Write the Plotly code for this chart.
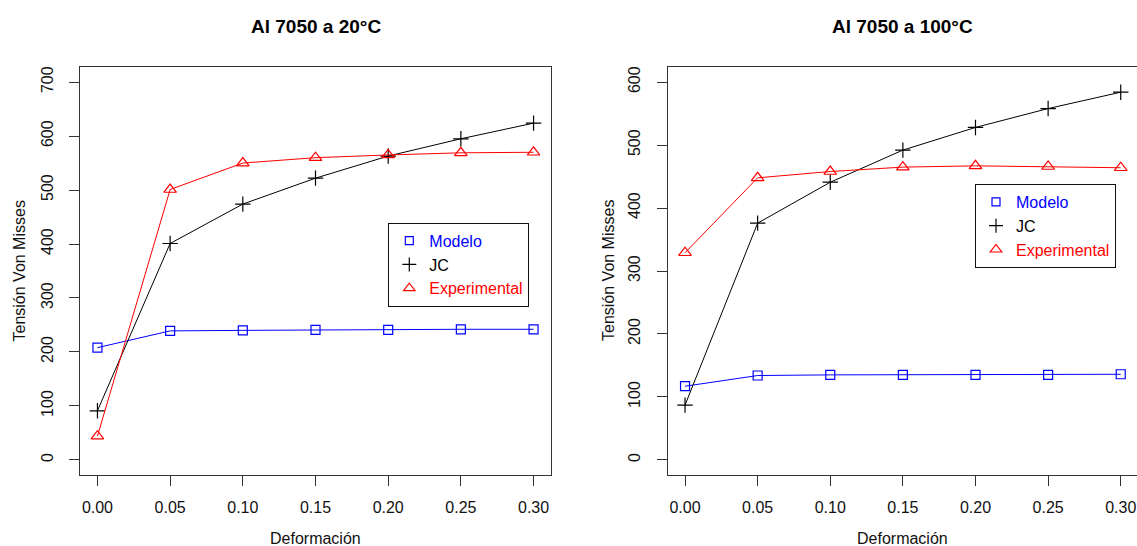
import plotly.graph_objects as go

deformacion = [0.00, 0.05, 0.10, 0.15, 0.20, 0.25, 0.30]

# Al 7050 a 20°C
modelo_20 = [208, 239, 240, 241, 241, 242, 242]
jc_20 = [91, 401, 474, 522, 563, 595, 624]
exp_20 = [44, 501, 550, 560, 565, 569, 570]

# Al 7050 a 100°C
modelo_100 = [117, 134, 135, 135, 135, 135, 136]
jc_100 = [87, 376, 441, 492, 528, 558, 584]
exp_100 = [329, 448, 458, 465, 467, 466, 464]

series_names = ["Modelo", "JC", "Experimental"]
colors = ["#0000FF", "#000000", "#FF0000"]
symbols = ["square-open", "cross-thin-open", "triangle-up-open"]
sizes = [9, 11, 11]

titles = ["Al 7050 a 20°C", "Al 7050 a 100°C"]
xlabel = "Deformación"
ylabel = "Tensión Von Misses"
xticks = [0.00, 0.05, 0.10, 0.15, 0.20, 0.25, 0.30]

W, H = 1137, 546
FONT = "Liberation Sans, Arial, sans-serif"

fig = go.Figure()

panels = [
    dict(data=[modelo_20, jc_20, exp_20], xa="x", ya="y", legend="legend"),
    dict(data=[modelo_100, jc_100, exp_100], xa="x2", ya="y2", legend="legend2"),
]

for p in panels:
    for vals, name, col, sym, sz in zip(p["data"], series_names, colors, symbols, sizes):
        fig.add_trace(go.Scatter(
            x=deformacion, y=vals, mode="lines+markers",
            line=dict(color=col, width=1),
            marker=dict(symbol=sym, size=sz, color=col, line=dict(color=col, width=1.2)),
            xaxis=p["xa"], yaxis=p["ya"], showlegend=False, hoverinfo="x+y",
        ))
    for name, col, sym, sz in zip(series_names, colors, symbols, sizes):
        fig.add_trace(go.Scatter(
            x=[None], y=[None], mode="markers",
            name=f"<span style='color:{col}'>{name}</span>",
            marker=dict(symbol=sym, size=sz - 1, color=col, line=dict(color=col, width=1.2)),
            xaxis=p["xa"], yaxis=p["ya"], legend=p["legend"], showlegend=True,
        ))

def px_x(v):
    return v / W

def px_y(v):
    return 1 - v / H

axis_common = dict(
    showgrid=False, zeroline=False, showline=True, linecolor="#333333", linewidth=1,
    ticks="outside", ticklen=10, tickwidth=1, tickcolor="#333333",
    tickfont=dict(family=FONT, size=16, color="#111111"),
)

ydom = [px_y(475), px_y(67)]

fig.update_layout(
    width=W, height=H,
    margin=dict(l=0, r=0, t=0, b=0),
    paper_bgcolor="white", plot_bgcolor="white",
    font=dict(family=FONT, size=16, color="#111111"),
    xaxis=dict(domain=[px_x(80), px_x(551)], range=[-0.012, 0.312], tickvals=xticks,
               tickformat=".2f", mirror=True, anchor="y", ticklabelstandoff=8, **axis_common),
    yaxis=dict(domain=ydom, range=[-28, 728], tickvals=[0, 100, 200, 300, 400, 500, 600, 700],
               tickangle=-90, mirror=True, anchor="x", ticklabelstandoff=10, **axis_common),
    xaxis2=dict(domain=[px_x(667.6), 1.0], range=[-0.012, 0.3112], tickvals=xticks,
                tickformat=".2f", mirror=True, anchor="y2", ticklabelstandoff=8, **axis_common),
    yaxis2=dict(domain=ydom, range=[-24, 624], tickvals=[0, 100, 200, 300, 400, 500, 600],
                tickangle=-90, mirror=False, anchor="x2", ticklabelstandoff=10, **axis_common),
    legend=dict(x=px_x(388.3), y=px_y(222.7), xanchor="left", yanchor="top",
                bgcolor="white", bordercolor="#111111", borderwidth=1,
                font=dict(family=FONT, size=16), itemwidth=30, tracegroupgap=0),
    legend2=dict(x=px_x(975), y=px_y(184), xanchor="left", yanchor="top",
                 bgcolor="white", bordercolor="#111111", borderwidth=1,
                 font=dict(family=FONT, size=16), itemwidth=30, tracegroupgap=0),
    showlegend=True,
)

annotations = []
for title, cx in zip(titles, [315.5, 902.8]):
    annotations.append(dict(text=f"<b>{title}</b>", x=px_x(cx), y=px_y(26), xref="paper", yref="paper",
                            xanchor="center", yanchor="middle", showarrow=False,
                            font=dict(family=FONT, size=19, color="#000000")))
for cx in [315.5, 902]:
    annotations.append(dict(text=xlabel, x=px_x(cx), y=px_y(538), xref="paper", yref="paper",
                            xanchor="center", yanchor="middle", showarrow=False,
                            font=dict(family=FONT, size=16, color="#111111")))
for cx in [18.5, 608]:
    annotations.append(dict(text=ylabel, x=px_x(cx), y=px_y(271), xref="paper", yref="paper",
                            xanchor="center", yanchor="middle", showarrow=False, textangle=-90,
                            font=dict(family=FONT, size=16, color="#111111")))
fig.update_layout(annotations=annotations)

fig.write_html(
    "out.html",
    config={"displayModeBar": False},
    post_script="document.body.style.margin='0';document.body.style.overflow='hidden';",
)
